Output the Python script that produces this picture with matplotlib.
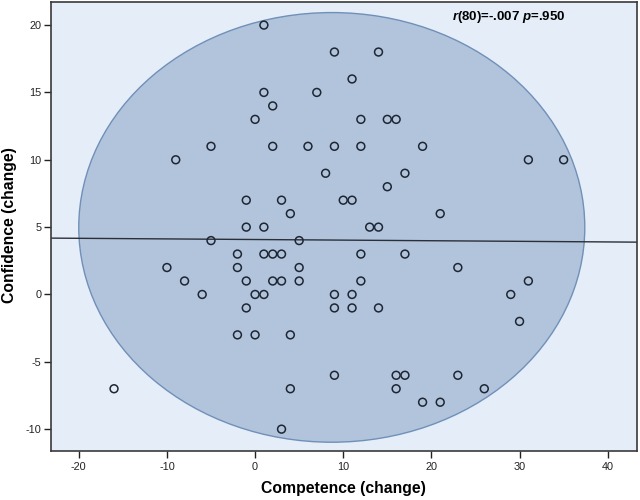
import matplotlib
matplotlib.use("Agg")
import matplotlib.pyplot as plt
from matplotlib.patches import Ellipse
import numpy as np

# Data
competence = [1, 9, 14, 11, 1, 7, 2, 0, 12, 15, 16,
              -5, 2, 6, 9, 12, 19, -9, 31, 35, 8, 17, 15,
              -1, 3, 10, 11, 4, 21, -1, 1, 13, 14, -5, 5,
              -2, 1, 2, 3, 12, 17, -10, -2, 5, 23,
              -8, -1, 2, 3, 5, 12, 31, -6, 0, 1, 9, 11, 29,
              -1, 9, 11, 14, 30, -2, 0, 4,
              9, 16, 17, 23, -16, 4, 16, 26, 19, 21, 3]
confidence = [20, 18, 18, 16, 15, 15, 14, 13, 13, 13, 13,
              11, 11, 11, 11, 11, 11, 10, 10, 10, 9, 9, 8,
              7, 7, 7, 7, 6, 6, 5, 5, 5, 5, 4, 4,
              3, 3, 3, 3, 3, 3, 2, 2, 2, 2,
              1, 1, 1, 1, 1, 1, 1, 0, 0, 0, 0, 0, 0,
              -1, -1, -1, -1, -2, -3, -3, -3,
              -6, -6, -6, -6, -7, -7, -7, -7, -8, -8, -10]

fit_intercept = 4.08
fit_slope = -0.0045

ellipse_center = (8.7, 4.98)
ellipse_width = 57.4
ellipse_height = 31.9

xticks = [-20, -10, 0, 10, 20, 30, 40]
yticks = [-10, -5, 0, 5, 10, 15, 20]
xlim = (-23.2, 43.3)
ylim = (-11.6, 21.7)

annotation = r"$\bfit{r}$(80)=-.007 $\bfit{p}$=.950"

plt.rcParams['font.family'] = ['Liberation Sans', 'DejaVu Sans']
plt.rcParams['axes.unicode_minus'] = False
plt.rcParams['mathtext.fontset'] = 'custom'
plt.rcParams['mathtext.rm'] = 'Liberation Sans'
plt.rcParams['mathtext.it'] = 'Liberation Sans:italic'
plt.rcParams['mathtext.bf'] = 'Liberation Sans:bold'
plt.rcParams['mathtext.bfit'] = 'Liberation Sans:italic:bold'

fig = plt.figure(figsize=(6.4, 5.0), dpi=100)
ax = fig.add_axes([0.079, 0.0986, 0.916, 0.897])
ax.set_facecolor('#E4EDF8')

ell = Ellipse(ellipse_center, ellipse_width, ellipse_height,
              facecolor='#B1C4DC', edgecolor='#7090B8', linewidth=1.0, zorder=1)
ax.add_patch(ell)

xs = np.array(xlim)
ax.plot(xs, fit_intercept + fit_slope * xs, color='#2B3038', linewidth=1.0, zorder=2)

ax.scatter(competence, confidence, s=32, facecolors='none',
           edgecolors='#1E2633', linewidths=1.1, zorder=3)

ax.set_xlim(*xlim)
ax.set_ylim(*ylim)
ax.set_xticks(xticks)
ax.set_yticks(yticks)
ax.tick_params(axis='both', direction='out', length=5, width=1.0,
               colors='#222222', labelsize=7.8)
ax.tick_params(axis='x', pad=3)
ax.tick_params(axis='y', pad=1.5)
for side in ['left', 'bottom', 'top', 'right']:
    ax.spines[side].set_color('#3A3A3A')
    ax.spines[side].set_linewidth(1.2)

ax.set_xlabel('Competence (change)', fontsize=11.3, fontweight='bold')
ax.set_ylabel('Confidence (change)', fontsize=11.3, fontweight='bold')
ax.xaxis.set_label_coords(0.5, -0.0675)
ax.yaxis.set_label_coords(-0.0575, 0.503)

ax.text(0.782, 0.966, annotation, transform=ax.transAxes, ha='center', va='center',
        fontsize=9.5, fontweight='bold')

fig.savefig('out.png', dpi=100)
